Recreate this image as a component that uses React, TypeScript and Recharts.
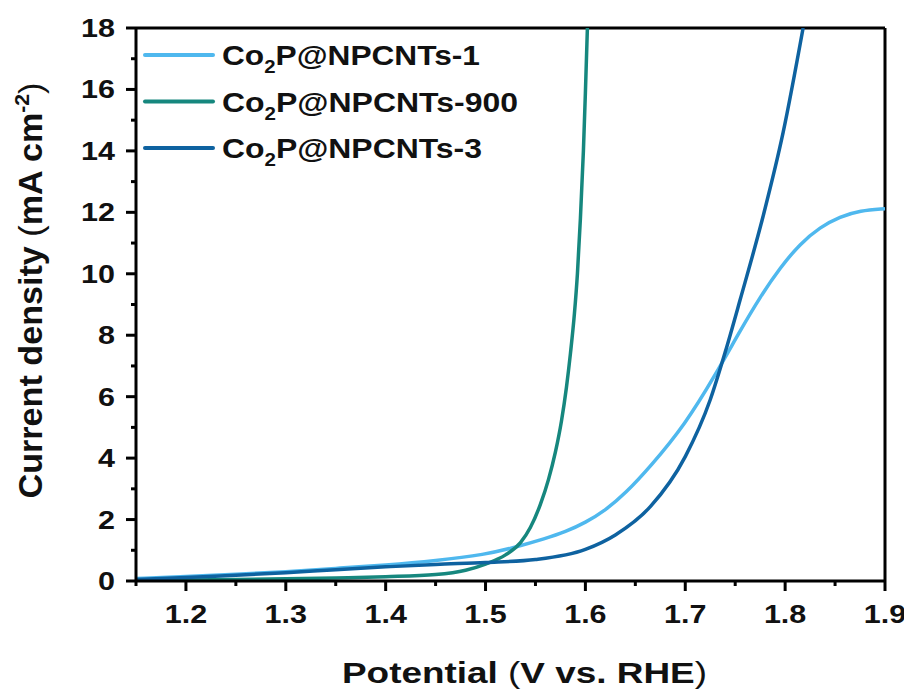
import React from 'react';
import { LineChart, Line, XAxis, YAxis, ReferenceLine, Legend } from 'recharts';

// ---- data ----
const s1X = [1.15, 1.2, 1.25, 1.3, 1.35, 1.4, 1.45, 1.5, 1.53, 1.56, 1.58, 1.6, 1.62, 1.64, 1.665, 1.7, 1.73, 1.755, 1.775, 1.795, 1.815, 1.835, 1.855, 1.875, 1.9];
const s1Y = [0.08, 0.14, 0.22, 0.3, 0.41, 0.52, 0.66, 0.86, 1.1, 1.38, 1.6, 1.9, 2.3, 2.85, 3.72, 5.1, 6.7, 8.15, 9.25, 10.2, 10.98, 11.52, 11.86, 12.06, 12.12];

const s900X = [1.15, 1.2, 1.25, 1.3, 1.35, 1.4, 1.45, 1.48, 1.5, 1.52, 1.535, 1.545, 1.555, 1.563, 1.57, 1.576, 1.581, 1.585, 1.589, 1.592, 1.595, 1.598, 1.6, 1.602];
const s900Y = [0.02, 0.03, 0.05, 0.07, 0.1, 0.14, 0.21, 0.35, 0.55, 0.85, 1.25, 1.75, 2.5, 3.3, 4.2, 5.2, 6.3, 7.4, 8.7, 10.0, 11.8, 14.0, 15.9, 18];

const s3X = [1.15, 1.2, 1.25, 1.3, 1.35, 1.4, 1.45, 1.5, 1.55, 1.6, 1.63, 1.665, 1.7, 1.725, 1.74, 1.755, 1.778, 1.798, 1.818];
const s3Y = [0.05, 0.11, 0.19, 0.27, 0.37, 0.46, 0.54, 0.6, 0.7, 1.03, 1.5, 2.42, 4.05, 5.9, 7.45, 9.16, 11.88, 14.6, 18];

const xTicks = [1.15, 1.2, 1.25, 1.3, 1.35, 1.4, 1.45, 1.5, 1.55, 1.6, 1.65, 1.7, 1.75, 1.8, 1.85, 1.9];
const xMajorLabels = ['1.2', '1.3', '1.4', '1.5', '1.6', '1.7', '1.8', '1.9'];
const yTicks = [0, 1, 2, 3, 4, 5, 6, 7, 8, 9, 10, 11, 12, 13, 14, 15, 16, 17, 18];

const seriesNames = ['1', '900', '3'];
const seriesColors = ['#4FB8EE', '#16877E', '#0E62A0'];

const toPoints = (xs: number[], ys: number[]) => xs.map((x, i) => ({ x, y: ys[i] }));
const series = [
  { name: seriesNames[0], color: seriesColors[0], data: toPoints(s1X, s1Y), curve: 'basis' },
  { name: seriesNames[1], color: seriesColors[1], data: toPoints(s900X, s900Y), curve: 'monotone' },
  { name: seriesNames[2], color: seriesColors[2], data: toPoints(s3X, s3Y), curve: 'monotone' },
];

const FONT = '"Liberation Sans", Arial, Helvetica, sans-serif';
const STRETCH = 1.22;
const charW = (s: string) => s.split('').reduce((a, c) => a + (c === '.' ? 0.278 : 0.556), 0);

const XTick = (props: any) => {
  const { x, y, payload } = props;
  const v = Number(payload.value);
  const label = v.toFixed(1);
  const isMajor = Math.abs(v * 10 - Math.round(v * 10)) < 1e-6 && xMajorLabels.includes(label);
  return (
    <g>
      <line x1={x} y1={y} x2={x} y2={y + (isMajor ? 10 : 5)} stroke="#000" strokeWidth={3} />
      {isMajor && (
        <text x={x} y={y + 42} textAnchor="middle" fontFamily={FONT} fontWeight="bold" fontSize={25} fill="#111"
          textLength={charW(label) * 25 * STRETCH} lengthAdjust="spacingAndGlyphs">{label}</text>
      )}
    </g>
  );
};

const YTick = (props: any) => {
  const { x, y, payload } = props;
  const v = Number(payload.value);
  const isMajor = v % 2 === 0;
  const label = String(v);
  return (
    <g>
      <line x1={x} y1={y} x2={x - (isMajor ? 10 : 5)} y2={y} stroke="#000" strokeWidth={3} />
      {isMajor && (
        <text x={x - 21} y={y + 9} textAnchor="end" fontFamily={FONT} fontWeight="bold" fontSize={25} fill="#111"
          textLength={charW(label) * 25 * STRETCH} lengthAdjust="spacingAndGlyphs">{label}</text>
      )}
    </g>
  );
};

const XTitle = (props: any) => {
  const vb = props.viewBox || { x: 128, y: 573, width: 749 };
  const cx = vb.x + vb.width / 2 + 14;
  return (
    <text x={cx} y={vb.y + 102} textAnchor="middle" fontFamily={FONT} fontWeight="bold" fontSize={30} fill="#111"
      textLength={365} lengthAdjust="spacingAndGlyphs">
      Potential <tspan fontWeight="normal">(</tspan>V vs. RHE<tspan fontWeight="normal">)</tspan>
    </text>
  );
};

const YTitle = (props: any) => {
  const vb = props.viewBox || { x: 68, y: 20, height: 553 };
  const cx = 34;
  const cy = vb.y + vb.height / 2 - 14;
  return (
    <text transform={`translate(${cx},${cy}) rotate(-90)`} x={0} y={0} textAnchor="middle" fontFamily={FONT}
      fontWeight="bold" fontSize={34} fill="#111" textLength={416} lengthAdjust="spacingAndGlyphs">
      Current density <tspan fontWeight="normal">(</tspan>mA cm<tspan fontSize={21} dy={-13}>-2</tspan>
      <tspan dy={13} fontWeight="normal">)</tspan>
    </text>
  );
};

const legendRows = [
  { suffix: '-1', width: 258 },
  { suffix: '-900', width: 296 },
  { suffix: '-3', width: 260 },
];

const LegendBox = () => (
  <svg width={520} height={170} style={{ display: 'block' }}>
    {series.map((s, i) => {
      const ly = 47 + i * 46.5;
      return (
        <g key={s.name}>
          <line x1={137} y1={ly} x2={205} y2={ly} stroke={s.color} strokeWidth={4} strokeLinecap="round" />
          <text x={214} y={ly + 10} fontFamily={FONT} fontWeight="bold" fontSize={28} fill="#111"
            textLength={legendRows[i].width} lengthAdjust="spacingAndGlyphs">
            Co<tspan fontSize={18} dy={8}>2</tspan><tspan dy={-8}>P@NPCNTs{legendRows[i].suffix}</tspan>
          </text>
        </g>
      );
    })}
  </svg>
);

export default function App() {
  return (
    <div style={{ width: 904, height: 683, background: '#fff' }}>
      <LineChart width={904} height={683} margin={{ top: 20, right: 27, bottom: 50, left: 68 }}>
        <XAxis
          dataKey="x"
          type="number"
          domain={[1.15, 1.9]}
          ticks={xTicks}
          interval={0}
          allowDataOverflow
          height={60}
          tickSize={0}
          tickMargin={0}
          tickLine={false}
          axisLine={{ stroke: '#000', strokeWidth: 3 }}
          tick={<XTick />}
          label={<XTitle />}
        />
        <YAxis
          dataKey="y"
          type="number"
          domain={[0, 18]}
          ticks={yTicks}
          interval={0}
          allowDataOverflow
          width={60}
          tickSize={0}
          tickMargin={0}
          tickLine={false}
          axisLine={{ stroke: '#000', strokeWidth: 3 }}
          tick={<YTick />}
          label={<YTitle />}
        />
        <ReferenceLine y={18} stroke="#000" strokeWidth={3} />
        <ReferenceLine x={1.9} stroke="#000" strokeWidth={3} />
        {series.map((s) => (
          <Line
            key={s.name}
            data={s.data}
            dataKey="y"
            name={`Co2P@NPCNTs-${s.name}`}
            type={s.curve as any}
            stroke={s.color}
            strokeWidth={3.5}
            dot={false}
            activeDot={false}
            isAnimationActive={false}
          />
        ))}
        <Legend
          layout="horizontal"
          verticalAlign="middle"
          align="center"
          content={<LegendBox />}
          wrapperStyle={{ left: 0, top: 0, width: 520, height: 170 }}
        />
      </LineChart>
    </div>
  );
}
